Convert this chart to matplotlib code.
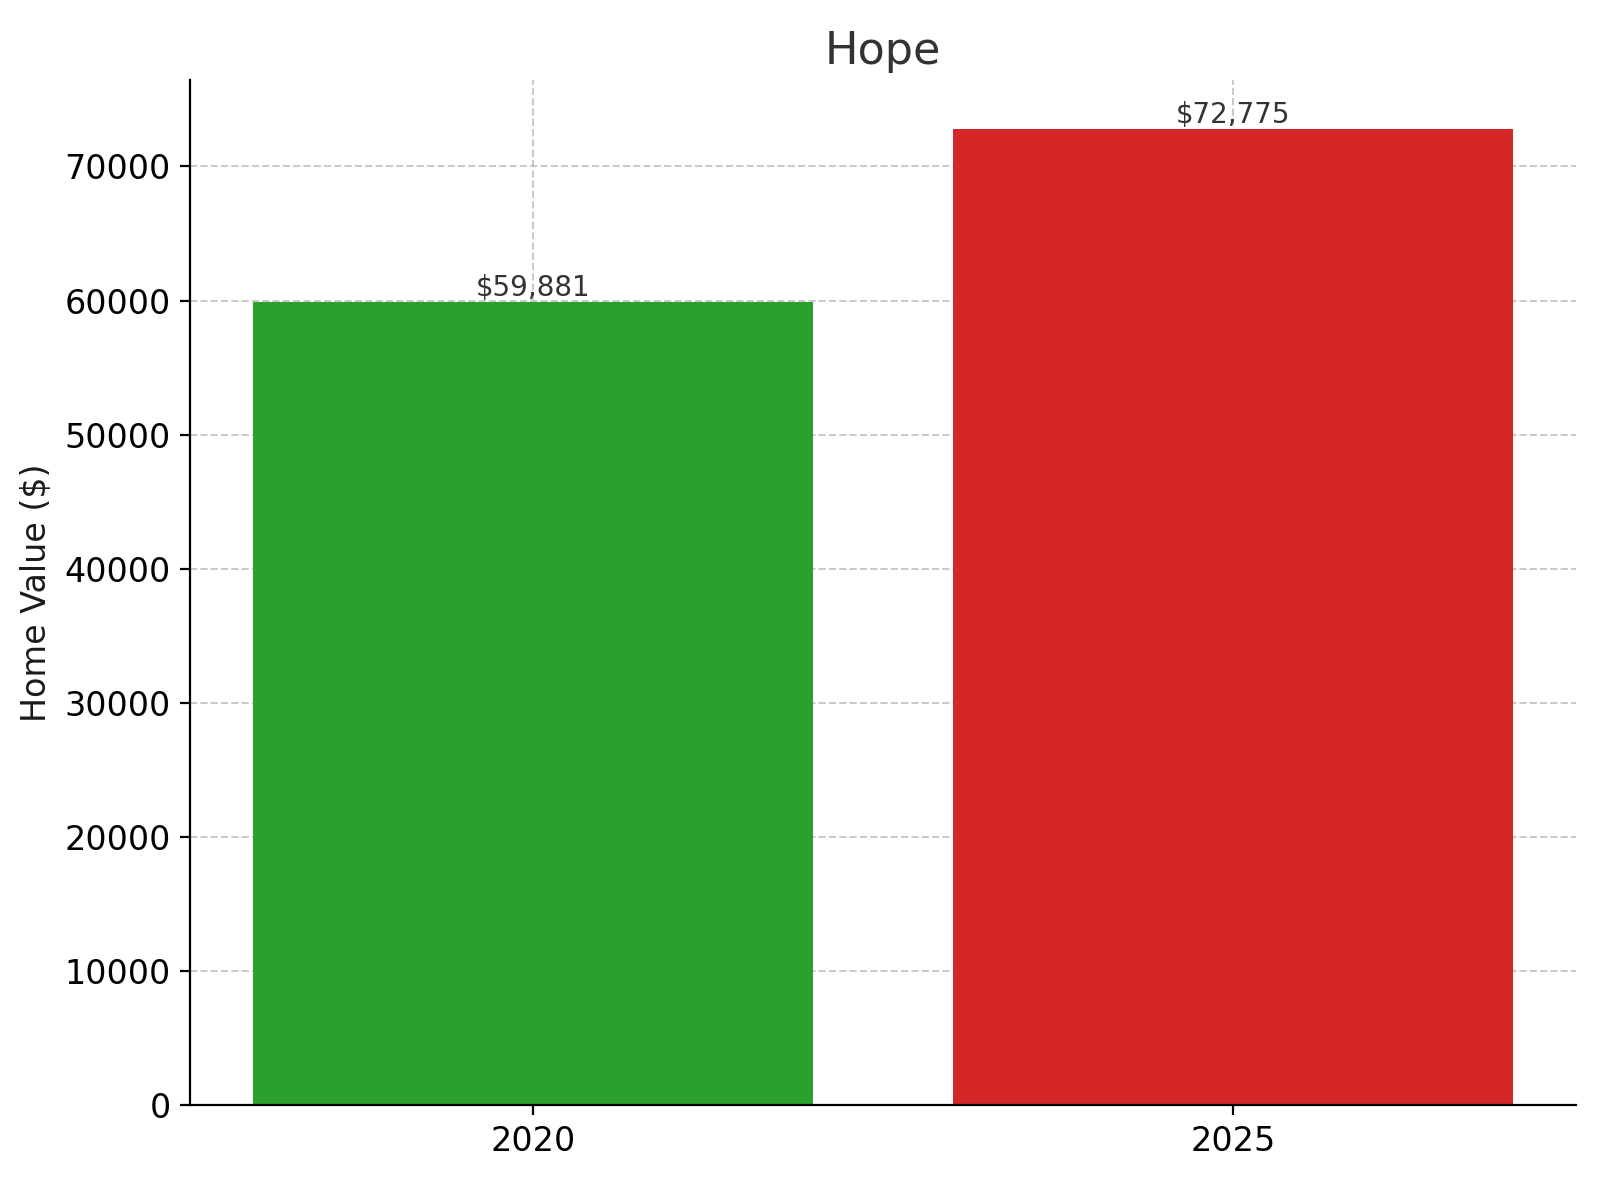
import matplotlib.pyplot as plt

years = ["2020", "2025"]
values = [59881, 72775]
colors = ["#2ca02c", "#d62728"]

fig, ax = plt.subplots(figsize=(8, 6), dpi=200)
fig.subplots_adjust(left=0.119, right=0.985, bottom=0.079, top=0.933)

bars = ax.bar(years, values, color=colors, zorder=2)
for b, v in zip(bars, values):
    ax.text(b.get_x() + b.get_width() / 2, v, f"${v:,}", ha="center", va="bottom",
            fontsize=10, color="#333333")

ax.set_title("Hope", fontsize=16, color="#333333")
ax.set_ylabel("Home Value ($)", fontsize=12, color="#1a1a1a")
ax.tick_params(labelsize=12)
ax.grid(True, linestyle="--", color="#bbbbbb", alpha=0.8, linewidth=0.7, zorder=3)
ax.spines["top"].set_visible(False)
ax.spines["right"].set_visible(False)

fig.savefig("out.png", dpi=200)
